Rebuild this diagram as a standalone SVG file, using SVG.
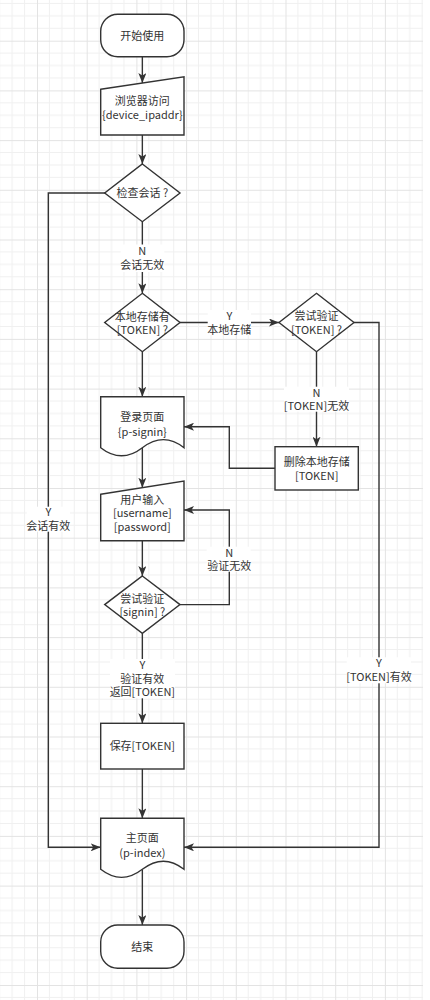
<svg xmlns="http://www.w3.org/2000/svg" width="430" height="1000" viewBox="0 0 430 1000">
<defs>
<pattern id="grid" patternUnits="userSpaceOnUse" x="37" y="40.7" width="49.7" height="49.7">
<path d="M12.42,0V49.7M24.85,0V49.7M37.27,0V49.7M0,12.42H49.7M0,24.85H49.7M0,37.27H49.7" stroke="#f0f0f0" stroke-width="1" fill="none"/>
<path d="M0.5,0V49.7M0,0.5H49.7" stroke="#e3e3e3" stroke-width="1" fill="none"/>
</pattern>
<marker id="arr" markerUnits="userSpaceOnUse" viewBox="0 0 10 8" refX="10" refY="4" markerWidth="10" markerHeight="8" orient="auto">
<path d="M0,0 L10,4 L0,8 L2.5,4 Z" fill="#333"/>
</marker>
</defs>
<style>
.shape{fill:#fff;stroke:#333;stroke-width:1.4}
.edge{fill:none;stroke:#333;stroke-width:1.4;marker-end:url(#arr)}
text{font-family:"Noto Sans CJK SC","Liberation Sans",sans-serif;font-size:11px;fill:#333;text-anchor:middle}
.lbg{fill:#fff}
</style>
<rect x="0" y="0" width="430" height="1000" fill="#fff"/>
<rect x="0" y="0" width="423" height="1000" fill="url(#grid)"/>

<g id="connectors">
<path class="edge" d="M142.35,56.7V83"/>
<path class="edge" d="M142.35,135V164"/>
<path class="edge" d="M105.3,193H48.3V847.3H100.7"/>
<path class="edge" d="M142.35,221.7V293.3"/>
<path class="edge" d="M180,322.5H279"/>
<path class="edge" d="M354,322.5H379V847.3H184"/>
<path class="edge" d="M316.5,351.7V446.7"/>
<path class="edge" d="M275,468.3H229.3V426.7H184"/>
<path class="edge" d="M142.35,351.7V396.7"/>
<path class="edge" d="M142.35,448V487.7"/>
<path class="edge" d="M142.35,540.7V576"/>
<path class="edge" d="M180,604.6H229.3V510H184"/>
<path class="edge" d="M142.35,633.3V723.3"/>
<path class="edge" d="M142.35,769V818.3"/>
<path class="edge" d="M142.35,869.3V925"/>
<g id="edge-labels">
<rect class="lbg" x="120.7" y="244.5" width="43.6" height="27.5"/>
<text x="142.35" y="255.4">N<tspan x="142.35" dy="14">会话无效</tspan></text>
<rect class="lbg" x="207.7" y="310" width="43.3" height="25"/>
<text x="229.3" y="319.9">Y<tspan x="229.3" dy="14">本地存储</tspan></text>
<rect class="lbg" x="284" y="386.7" width="65" height="25"/>
<text x="316.5" y="396.6">N<tspan x="316.5" dy="13.3">[TOKEN]无效</tspan></text>
<rect class="lbg" x="206.7" y="546.7" width="44" height="25"/>
<text x="229.3" y="556.6">N<tspan x="229.3" dy="13.3">验证无效</tspan></text>
<rect class="lbg" x="110" y="659" width="65" height="39.3"/>
<text x="142.35" y="668.9">Y<tspan x="142.35" dy="14">验证有效</tspan><tspan x="142.35" dy="13.3">返回[TOKEN]</tspan></text>
<rect class="lbg" x="26.7" y="506.7" width="43.3" height="25"/>
<text x="48.3" y="516.2">Y<tspan x="48.3" dy="13.4">会话有效</tspan></text>
<rect class="lbg" x="346.7" y="657.3" width="64.3" height="26"/>
<text x="379" y="667.2">Y<tspan x="379" dy="13.4">[TOKEN]有效</tspan></text>
</g>
</g>

<g id="start">
<rect class="shape" x="100.7" y="14.3" width="83.3" height="42.4" rx="17" ry="17"/>
<text x="142.35" y="39.9">开始使用</text>
</g>
<g id="browser">
<polygon class="shape" points="100.7,89.3 184,76.7 184,135 100.7,135"/>
<text x="142.35" y="104.6">浏览器访问<tspan x="142.35" dy="14.3">{device_ipaddr}</tspan></text>
</g>
<g id="check-session">
<polygon class="shape" points="142.35,164 180,193 142.35,221.7 104.7,193"/>
<text x="142.35" y="196.9">检查会话 ?</text>
</g>
<g id="local-token">
<polygon class="shape" points="142.35,293.3 180,322.5 142.35,351.7 104.7,322.5"/>
<text x="142.35" y="320.6">本地存储有<tspan x="142.35" dy="13.3">[TOKEN] ?</tspan></text>
</g>
<g id="verify-token">
<polygon class="shape" points="316.5,293.3 354,322.5 316.5,351.7 279,322.5"/>
<text x="316.5" y="319.9">尝试验证<tspan x="316.5" dy="14">[TOKEN] ?</tspan></text>
</g>
<g id="delete-token">
<rect class="shape" x="275" y="446.7" width="83.3" height="43.3"/>
<text x="316.65" y="466.2">删除本地存储<tspan x="316.65" dy="13.7">[TOKEN]</tspan></text>
</g>
<g id="login-page">
<path class="shape" d="M100.7,396.7H184V447.7Q163.5,431.5 142.35,447.7Q121.5,463.9 100.7,447.7Z"/>
<text x="142.35" y="420.6">登录页面<tspan x="142.35" dy="15">{p-signin}</tspan></text>
</g>
<g id="user-input">
<polygon class="shape" points="100.7,494.3 184,481 184,540.7 100.7,540.7"/>
<text x="142.35" y="503.9">用户输入<tspan x="142.35" dy="13.3">[username]</tspan><tspan x="142.35" dy="13.4">[password]</tspan></text>
</g>
<g id="verify-signin">
<polygon class="shape" points="142.35,576 180,604.6 142.35,633.3 104.7,604.6"/>
<text x="142.35" y="602.9">尝试验证<tspan x="142.35" dy="13.3">[signin] ?</tspan></text>
</g>
<g id="save-token">
<rect class="shape" x="100.7" y="723.3" width="83.3" height="45.7"/>
<text x="142.35" y="749.9">保存[TOKEN]</text>
</g>
<g id="main-page">
<path class="shape" d="M100.7,818.3H184V869.3Q163.5,853.1 142.35,869.3Q121.5,885.5 100.7,869.3Z"/>
<text x="142.35" y="842.2">主页面<tspan x="142.35" dy="14.4">(p-index)</tspan></text>
</g>
<g id="end">
<rect class="shape" x="100.7" y="925" width="83.3" height="43.3" rx="17" ry="17"/>
<text x="142.35" y="950.9">结束</text>
</g>
</svg>
